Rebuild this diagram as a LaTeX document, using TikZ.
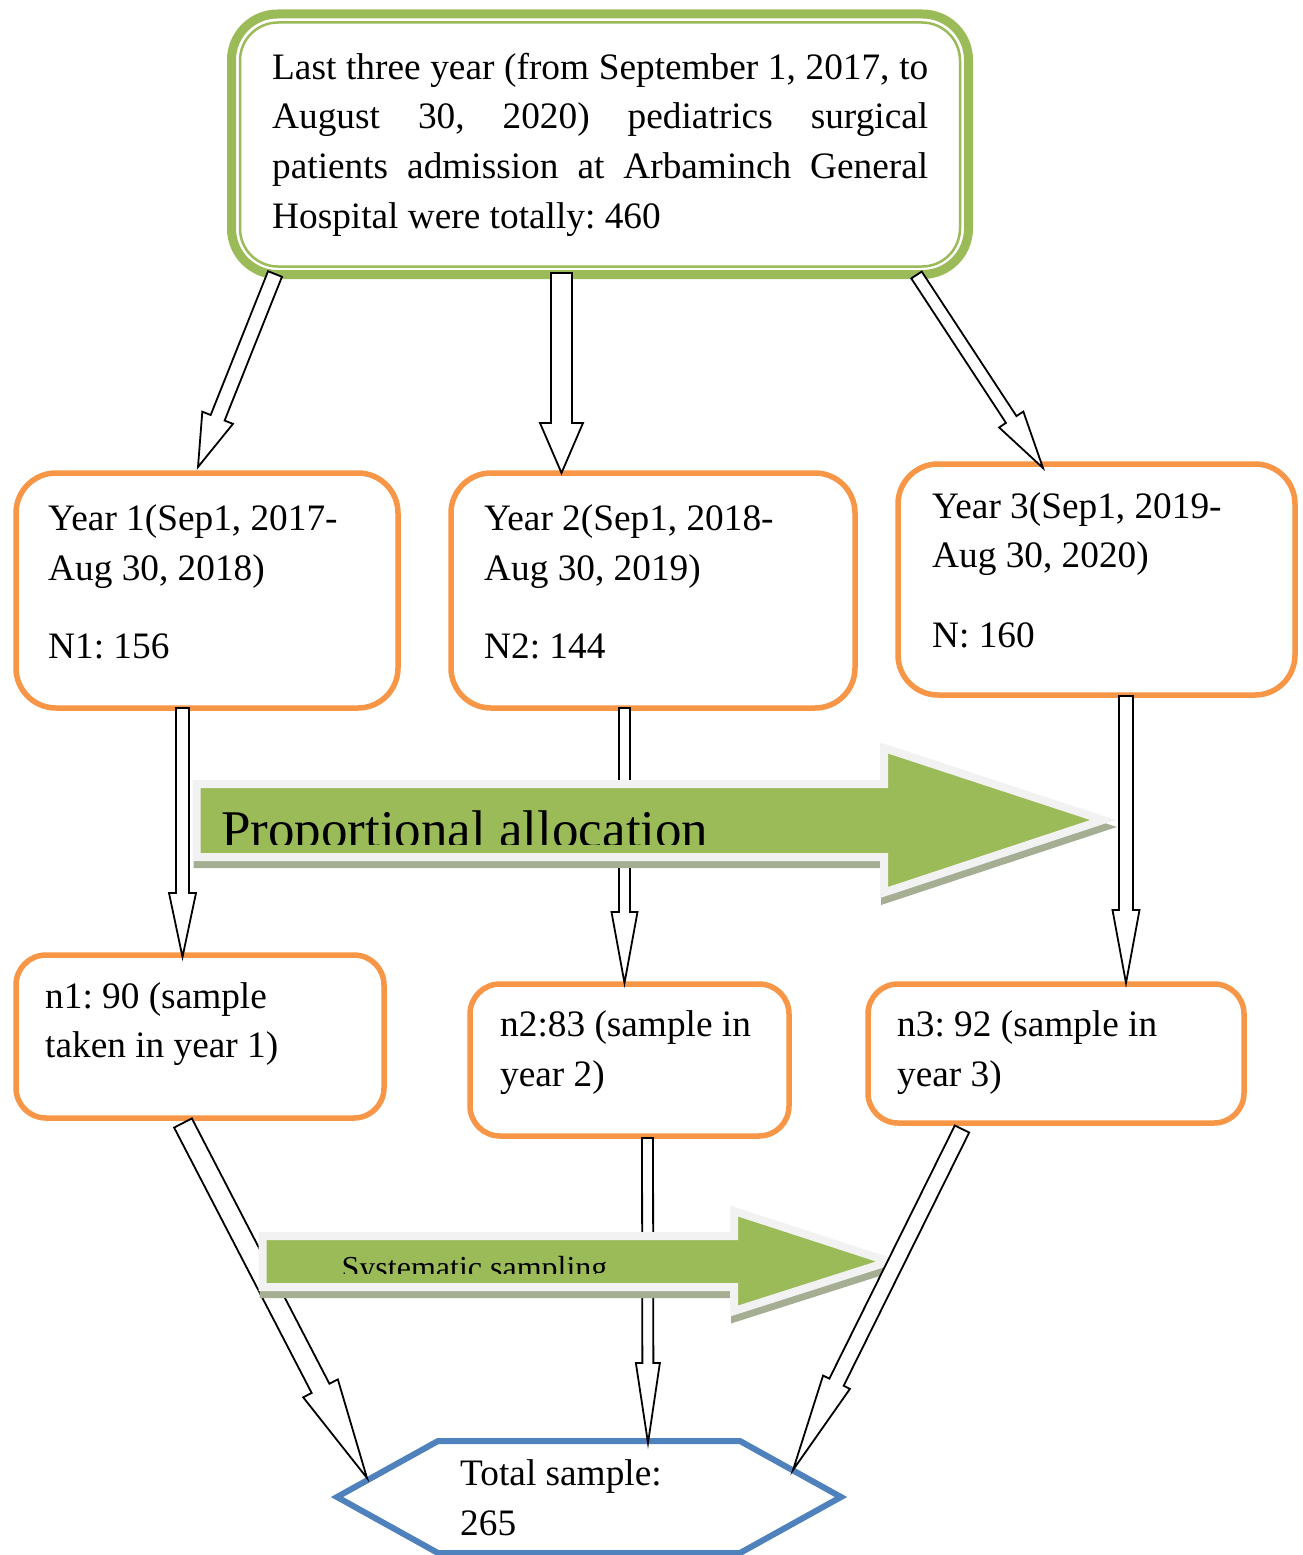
\documentclass[tikz,border=0pt]{standalone}
\usepackage{fontspec}
\setmainfont{Liberation Serif}
\usetikzlibrary{calc}
\definecolor{ogreen}{HTML}{9BBB59}
\definecolor{oorange}{HTML}{F79646}
\definecolor{oblue}{HTML}{4F81BD}
\definecolor{obord}{HTML}{F2F2F2}
\definecolor{oshadow}{HTML}{A5AE92}
\AtBeginDocument{\frenchspacing}
% from, to, half shaft width, half head width, head length
\newcommand{\blockarrow}[5]{%
  \coordinate (bahead) at ($(#2)!#5!(#1)$);
  \draw[blockarr] ($(#1)!#3!90:(#2)$) -- ($(bahead)!#3!90:(#2)$) -- ($(bahead)!#4!90:(#2)$) -- (#2)
    -- ($(bahead)!#4!-90:(#2)$) -- ($(bahead)!#3!-90:(#2)$) -- ($(#1)!#3!-90:(#2)$) -- cycle;}
\begin{document}
\begin{tikzpicture}[x=1pt,y=-1pt,
  txt/.style={anchor=base west, inner sep=0pt, font=\fontsize{37.3}{44}\selectfont},
  topouter/.style={draw=ogreen, line width=9pt, rounded corners=46pt, inner sep=0pt, fill=white},
  topinner/.style={draw=ogreen, line width=2.5pt, rounded corners=38pt, inner sep=0pt},
  yearbox/.style={draw=oorange, line width=5.5pt, rounded corners=40pt, inner sep=0pt, fill=white},
  sampbox/.style={draw=oorange, line width=5.5pt, rounded corners=30pt, inner sep=0pt, fill=white},
  blockarr/.style={draw=black, fill=white, line width=1.8pt, line join=miter},
  greenarr/.style={draw=obord, fill=ogreen, line width=8pt, line join=miter},
  shadowarr/.style={draw=oshadow, fill=oshadow, line width=8pt, line join=miter}]
\useasboundingbox (0,0) rectangle (1302,1555);

% ---------- boxes ----------
\node[topouter, minimum width=737pt, minimum height=260.5pt] (top) at (600,144.25) {};
\node[topinner, minimum width=720pt, minimum height=244pt] (topin) at (600,144.5) {};

\node[yearbox, minimum width=382pt, minimum height=235pt] (y1) at (207,590.5) {};
\node[yearbox, minimum width=404pt, minimum height=235pt] (y2) at (653,590.5) {};
\node[yearbox, minimum width=397pt, minimum height=231pt] (y3) at (1096.5,579.5) {};

\node[sampbox, minimum width=368pt, minimum height=163pt] (n1) at (200,1036.5) {};
\node[sampbox, minimum width=319pt, minimum height=152pt] (n2) at (629.5,1060) {};
\node[sampbox, minimum width=376pt, minimum height=139pt] (n3) at (1056,1053.5) {};

\draw[oblue, line width=6pt, line join=miter, fill=white]
  (337,1497) -- (438,1441) -- (740,1441) -- (841,1497) -- (740,1553) -- (438,1553) -- cycle;
\coordinate (hex) at (589,1497);

% ---------- texts ----------
\node[txt] (tt1) at (272,79) {\makebox[656pt][s]{Last three year (from September 1, 2017, to}};
\node[txt] (tt2) at (272,128.7) {\makebox[656pt][s]{August 30, 2020) pediatrics surgical}};
\node[txt] (tt3) at (272,178.4) {\makebox[656pt][s]{patients admission at Arbaminch General}};
\node[txt] (tt4) at (272,228) {Hospital were totally: 460};

\node[txt] (y1a) at (48,530) {Year 1(Sep1, 2017-};
\node[txt] (y1b) at (48,580) {Aug 30, 2018)};
\node[txt] (y1c) at (48,658.5) {N1: 156};

\node[txt] (y2a) at (484,530) {Year 2(Sep1, 2018-};
\node[txt] (y2b) at (484,580) {Aug 30, 2019)};
\node[txt] (y2c) at (484,658.5) {N2: 144};

\node[txt] (y3a) at (932,518.5) {Year 3(Sep1, 2019-};
\node[txt] (y3b) at (932,567) {Aug 30, 2020)};
\node[txt] (y3c) at (932,647.5) {N: 160};

\node[txt] (n1a) at (45,1008) {n1: 90 (sample};
\node[txt] (n1b) at (45,1057) {taken in year 1)};
\node[txt] (n2a) at (500,1036) {n2:83 (sample in};
\node[txt] (n2b) at (500,1086) {year 2)};
\node[txt] (n3a) at (897,1036) {n3: 92 (sample in};
\node[txt] (n3b) at (897,1086) {year 3)};

\node[txt] (hexa) at (460,1485) {Total sample:};
\node[txt] (hexb) at (460,1535) {265};

% ---------- connector end points ----------
\coordinate (aS) at (275,274);     \coordinate (aE) at (198,467);
\coordinate (bS) at (561.5,273);   \coordinate (bE) at (561.5,473);
\coordinate (cS) at (916.5,275);   \coordinate (cE) at (1043,468);
\coordinate (dS) at (182.5,708);   \coordinate (dE) at (182.5,957);
\coordinate (eS) at (624.5,708);   \coordinate (eE) at (624.5,983);
\coordinate (fS) at (1126,696);    \coordinate (fE) at (1126,983);
\coordinate (gS) at (183,1123);    \coordinate (gE) at (367,1478);
\coordinate (hS) at (647.5,1138);  \coordinate (hE) at (648,1443);
\coordinate (iS) at (962,1129);    \coordinate (iE) at (793,1470);

\blockarrow{aS}{aE}{7.5pt}{16.5pt}{53pt}
\blockarrow{bS}{bE}{10.5pt}{21.5pt}{50pt}
\blockarrow{cS}{cE}{6.25pt}{14.5pt}{58pt}
\blockarrow{dS}{dE}{6.5pt}{13.5pt}{64pt}
\blockarrow{eS}{eE}{5.5pt}{13pt}{71pt}
\blockarrow{fS}{fE}{7pt}{13.5pt}{73pt}
\blockarrow{gS}{gE}{10pt}{19.5pt}{101pt}
\blockarrow{hS}{hE}{5.5pt}{12pt}{80pt}

% ---------- proportional allocation arrow ----------
\path[shadowarr, shift={(1,7)}] (196.5,784) -- (884,784) -- (884,748) -- (1103,820) -- (884,892.5) -- (884,857) -- (196.5,857) -- cycle;
\path[greenarr] (196.5,784) -- (884,784) -- (884,748) -- (1103,820) -- (884,892.5) -- (884,857) -- (196.5,857) -- cycle;
\begin{scope}
  \clip (200,788) rectangle (885,844);
  \node[anchor=base west, inner sep=0pt, font=\fontsize{53}{60}\selectfont] (pa) at (221,847) {Proportional allocation};
\end{scope}

% ---------- systematic sampling arrow ----------
\path[shadowarr, shift={(1,7)}] (262.5,1236) -- (734,1236) -- (734,1211) -- (889,1261.5) -- (734,1311) -- (734,1287) -- (262.5,1287) -- cycle;
\path[greenarr] (262.5,1236) -- (734,1236) -- (734,1211) -- (889,1261.5) -- (734,1311) -- (734,1287) -- (262.5,1287) -- cycle;
\begin{scope}
  \clip (266,1240) rectangle (738,1273);
  \node[anchor=base west, inner sep=0pt, font=\fontsize{32}{38}\selectfont] (ss) at (341.5,1278) {Systematic sampling};
\end{scope}

\blockarrow{iS}{iE}{8pt}{15pt}{98pt}
\end{tikzpicture}
\end{document}
